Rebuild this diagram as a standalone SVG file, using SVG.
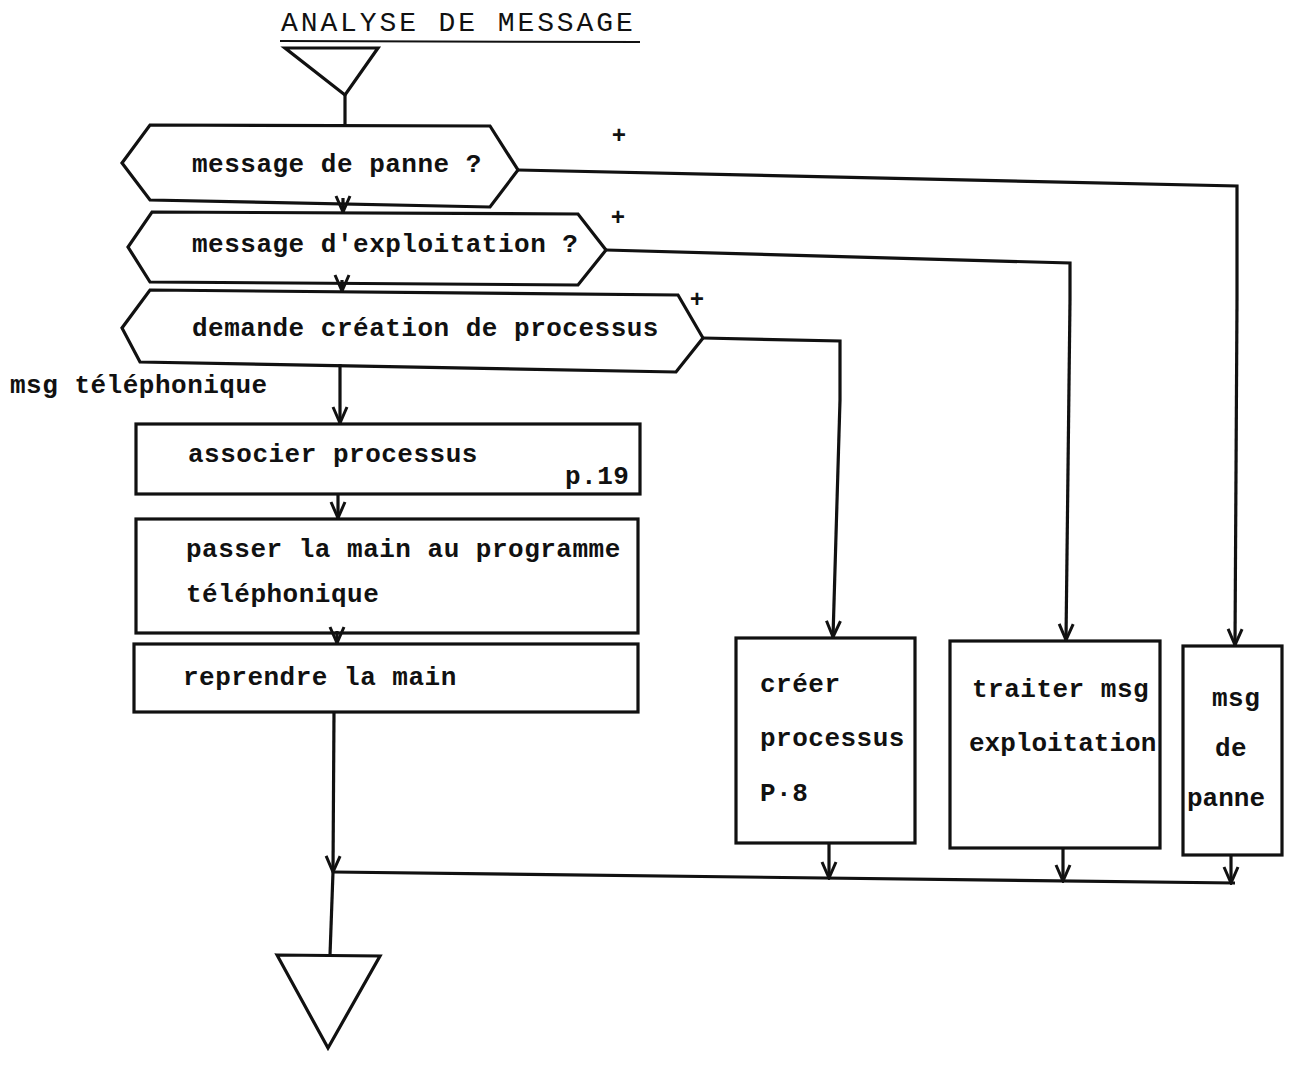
<svg xmlns="http://www.w3.org/2000/svg" width="1295" height="1070" viewBox="0 0 1295 1070">
<defs>
<marker id="arr" viewBox="0 0 20 18" refX="18" refY="9" markerWidth="20" markerHeight="18" markerUnits="userSpaceOnUse" orient="auto">
<path d="M2,2 L18,9 L2,16" fill="none" stroke="#111" stroke-width="3" stroke-linejoin="miter"/>
</marker>
</defs>
<style>
.s{fill:#fff;stroke:#111;stroke-width:3.2;stroke-linejoin:miter}
.c{fill:none;stroke:#111;stroke-width:3.2}
.ca{fill:none;stroke:#111;stroke-width:3.2;marker-end:url(#arr)}
text{font-family:"Liberation Mono","DejaVu Sans Mono",monospace;font-size:26px;font-weight:bold;fill:#111;letter-spacing:0.5px}
.t{font-size:28px;letter-spacing:2.9px;font-weight:normal}
.p{font-size:24px;letter-spacing:0;text-anchor:middle}
</style>
<rect width="1295" height="1070" fill="#fff"/>
<g id="title">
<text class="t" x="281" y="31">ANALYSE DE MESSAGE</text>
<line x1="280" y1="41" x2="640" y2="42" stroke="#111" stroke-width="2"/>
</g>
<g id="start"><polygon class="s" points="285,48 378,48 345,95"/></g>
<g id="d1">
<polygon class="s" points="150,125 490,126 518,170 490,207 150,200 122,163"/>
<text x="192" y="172">message de panne ?</text>
</g>
<g id="d2">
<polygon class="s" points="152,212 578,214 606,250 578,285 150,282 128,247"/>
<text x="192" y="252">message d'exploitation ?</text>
</g>
<g id="d3">
<polygon class="s" points="150,290 678,295 703,338 676,372 140,362 122,328"/>
<text x="192" y="336">demande création de processus</text>
</g>
<g id="labels">
<text class="p" x="619" y="143">+</text>
<text class="p" x="618" y="225">+</text>
<text class="p" x="697" y="307">+</text>
<text x="10" y="393">msg téléphonique</text>
</g>
<g id="b1">
<rect class="s" x="136" y="424" width="504" height="70"/>
<text x="188" y="462">associer processus</text>
<text x="565" y="484">p.19</text>
</g>
<g id="b2">
<rect class="s" x="136" y="519" width="502" height="114"/>
<text x="186" y="557">passer la main au programme</text>
<text x="186" y="602">téléphonique</text>
</g>
<g id="b3">
<rect class="s" x="134" y="644" width="504" height="68"/>
<text x="183" y="685">reprendre la main</text>
</g>
<g id="b4">
<rect class="s" x="736" y="638" width="179" height="205"/>
<text x="760" y="692">créer</text>
<text x="760" y="746">processus</text>
<text x="760" y="801">P·8</text>
</g>
<g id="b5">
<rect class="s" x="950" y="641" width="210" height="207"/>
<text x="972" y="697">traiter msg</text>
<text x="969" y="751" style="letter-spacing:0">exploitation</text>
</g>
<g id="b6">
<rect class="s" x="1183" y="646" width="99" height="209"/>
<text x="1212" y="706">msg</text>
<text x="1215" y="756">de</text>
<text x="1187" y="806" style="letter-spacing:0">panne</text>
</g>
<g id="end"><polygon class="s" points="277,955 380,956 328,1048"/></g>
<g id="connectors">
<line class="c" x1="345" y1="95" x2="345" y2="125"/>
<line class="ca" x1="343" y1="198" x2="343" y2="212"/>
<line class="ca" x1="342" y1="280" x2="342" y2="291"/>
<line class="ca" x1="340" y1="364" x2="340" y2="423"/>
<line class="ca" x1="338" y1="494" x2="338" y2="518"/>
<line class="ca" x1="337" y1="631" x2="337" y2="643"/>
<polyline class="c" points="518,170 1237,186 1237,300"/>
<line class="ca" x1="1237" y1="300" x2="1235" y2="645"/>
<polyline class="c" points="606,250 1070,263 1070,300"/>
<line class="ca" x1="1070" y1="300" x2="1066" y2="640"/>
<polyline class="c" points="703,338 840,341 840,400"/>
<line class="ca" x1="840" y1="400" x2="833" y2="637"/>
<line class="ca" x1="334" y1="712" x2="333" y2="872"/>
<line class="c" x1="333" y1="872" x2="330" y2="955"/>
<line class="c" x1="333" y1="872" x2="1235" y2="883"/>
<line class="ca" x1="829" y1="843" x2="829" y2="878"/>
<line class="ca" x1="1063" y1="848" x2="1063" y2="881"/>
<line class="ca" x1="1231" y1="855" x2="1231" y2="883"/>
</g>
</svg>
